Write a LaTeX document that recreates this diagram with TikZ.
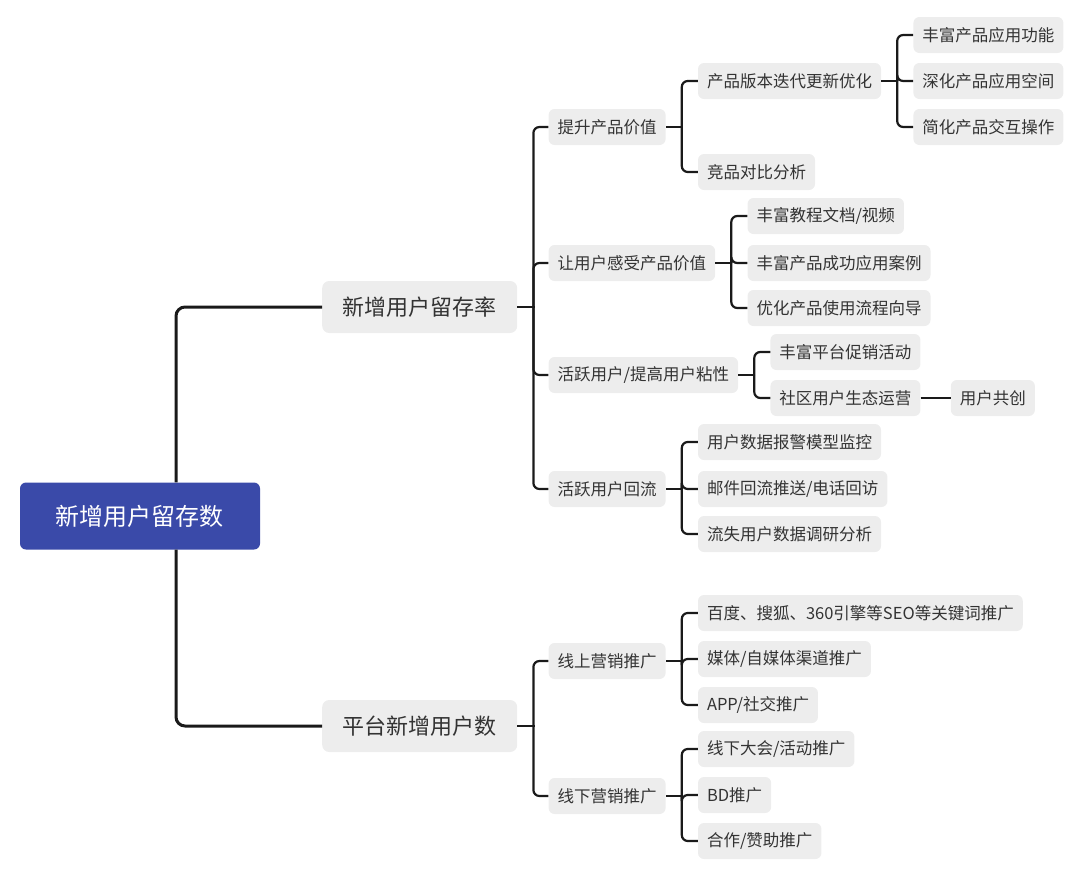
\documentclass[tikz,border=0pt]{standalone}
\usepackage{fontspec}
\usetikzlibrary{positioning, calc}
\newfontfamily\cjk{Noto Sans CJK SC}
\definecolor{rootblue}{HTML}{3A4AA9}
\definecolor{boxgray}{HTML}{EDEDED}
\definecolor{linedark}{HTML}{1A1A1A}
\definecolor{textdark}{HTML}{333333}
\tikzset{
    rootnode/.style={rectangle, rounded corners=6pt, fill=rootblue, text=white, font=\cjk\fontsize{24}{28}\selectfont, minimum width=240pt, minimum height=67pt, inner sep=0pt},
    topicbox/.style={rectangle, rounded corners=7pt, fill=boxgray, text=textdark, font=\cjk\fontsize{22}{26}\selectfont, minimum width=195pt, minimum height=52pt, inner sep=0pt, anchor=west},
    itembox/.style={rectangle, rounded corners=6pt, fill=boxgray, text=textdark, font=\cjk\fontsize{16.5}{20}\selectfont, minimum height=36pt, inner xsep=9pt, inner ysep=0pt, anchor=west},
    rootlink/.style={draw=linedark, line width=3pt, rounded corners=9pt},
    link/.style={draw=linedark, line width=2.2pt, rounded corners=6pt},
    stub/.style={link, line cap=rect, shorten <=1.1pt}
}

\begin{document}
\begin{tikzpicture}[x=1pt, y=-1pt]
    \useasboundingbox (0,0) rectangle (1080,876);

    % root and the two main topics
    \node[rootnode] (root) at (140,516) {新增用户留存数};
    \node[topicbox] (retain) at (322,307) {新增用户留存率};
    \node[topicbox] (growth) at (322,726) {平台新增用户数};
    \draw[rootlink] ([xshift=36pt]root.north) |- (retain.west);
    \draw[rootlink] ([xshift=36pt]root.south) |- (growth.west);

    % retention branch
    \coordinate (retainJ) at ([xshift=16pt]retain.east);
    \node[itembox, xshift=15pt] (value) at (retainJ |- 0,127) {提升产品价值};
    \node[itembox, xshift=15pt] (feel) at (retainJ |- 0,263) {让用户感受产品价值};
    \node[itembox, xshift=15pt] (sticky) at (retainJ |- 0,375) {活跃用户/提高用户粘性};
    \node[itembox, xshift=15pt] (back) at (retainJ |- 0,489) {活跃用户回流};
    \draw[stub] (retain.east) -- (retainJ);
    \foreach \c in {value,feel,sticky,back} \draw[link] (retainJ) |- (\c.west);

    \coordinate (valueJ) at ([xshift=16pt]value.east);
    \node[itembox, xshift=16pt] (version) at (valueJ |- 0,81) {产品版本迭代更新优化};
    \node[itembox, xshift=16pt] (compete) at (valueJ |- 0,172) {竞品对比分析};
    \draw[stub] (value.east) -- (valueJ);
    \foreach \c in {version,compete} \draw[link] (valueJ) |- (\c.west);

    \coordinate (versionJ) at ([xshift=16pt]version.east);
    \node[itembox, xshift=16pt] (richFunc) at (versionJ |- 0,35) {丰富产品应用功能};
    \node[itembox, xshift=16pt] (deepSpace) at (versionJ |- 0,81) {深化产品应用空间};
    \node[itembox, xshift=16pt] (simpleOp) at (versionJ |- 0,127) {简化产品交互操作};
    \draw[stub] (version.east) -- (versionJ);
    \foreach \c in {richFunc,deepSpace,simpleOp} \draw[link] (versionJ) |- (\c.west);

    \coordinate (feelJ) at ([xshift=16pt]feel.east);
    \node[itembox, xshift=16pt] (tutorial) at (feelJ |- 0,216) {丰富教程文档/视频};
    \node[itembox, xshift=16pt] (cases) at (feelJ |- 0,263) {丰富产品成功应用案例};
    \node[itembox, xshift=16pt] (guide) at (feelJ |- 0,308) {优化产品使用流程向导};
    \draw[stub] (feel.east) -- (feelJ);
    \foreach \c in {tutorial,cases,guide} \draw[link] (feelJ) |- (\c.west);

    \coordinate (stickyJ) at ([xshift=16pt]sticky.east);
    \node[itembox, xshift=16pt] (promo) at (stickyJ |- 0,352) {丰富平台促销活动};
    \node[itembox, xshift=16pt] (community) at (stickyJ |- 0,398) {社区用户生态运营};
    \node[itembox, xshift=30pt] (cocreate) at (community.east) {用户共创};
    \draw[stub] (sticky.east) -- (stickyJ);
    \foreach \c in {promo,community} \draw[link] (stickyJ) |- (\c.west);
    \draw[link] (community.east) -- (cocreate.west);

    \coordinate (backJ) at ([xshift=16pt]back.east);
    \node[itembox, xshift=16pt] (alarm) at (backJ |- 0,442) {用户数据报警模型监控};
    \node[itembox, xshift=16pt] (mail) at (backJ |- 0,489) {邮件回流推送/电话回访};
    \node[itembox, xshift=16pt] (survey) at (backJ |- 0,534) {流失用户数据调研分析};
    \draw[stub] (back.east) -- (backJ);
    \foreach \c in {alarm,mail,survey} \draw[link] (backJ) |- (\c.west);

    % growth branch
    \coordinate (growthJ) at ([xshift=16pt]growth.east);
    \node[itembox, xshift=15pt] (online) at (growthJ |- 0,661) {线上营销推广};
    \node[itembox, xshift=15pt] (offline) at (growthJ |- 0,796) {线下营销推广};
    \draw[stub] (growth.east) -- (growthJ);
    \foreach \c in {online,offline} \draw[link] (growthJ) |- (\c.west);

    \coordinate (onlineJ) at ([xshift=16pt]online.east);
    \node[itembox, xshift=16pt] (seo) at (onlineJ |- 0,613) {百度、搜狐、360引擎等SEO等关键词推广};
    \node[itembox, xshift=16pt] (media) at (onlineJ |- 0,659) {媒体/自媒体渠道推广};
    \node[itembox, xshift=16pt] (app) at (onlineJ |- 0,705) {APP/社交推广};
    \draw[stub] (online.east) -- (onlineJ);
    \foreach \c in {seo,media,app} \draw[link] (onlineJ) |- (\c.west);

    \coordinate (offlineJ) at ([xshift=16pt]offline.east);
    \node[itembox, xshift=16pt] (meeting) at (offlineJ |- 0,749) {线下大会/活动推广};
    \node[itembox, xshift=16pt] (bd) at (offlineJ |- 0,795) {BD推广};
    \node[itembox, xshift=16pt] (sponsor) at (offlineJ |- 0,841) {合作/赞助推广};
    \draw[stub] (offline.east) -- (offlineJ);
    \foreach \c in {meeting,bd,sponsor} \draw[link] (offlineJ) |- (\c.west);
\end{tikzpicture}
\end{document}
